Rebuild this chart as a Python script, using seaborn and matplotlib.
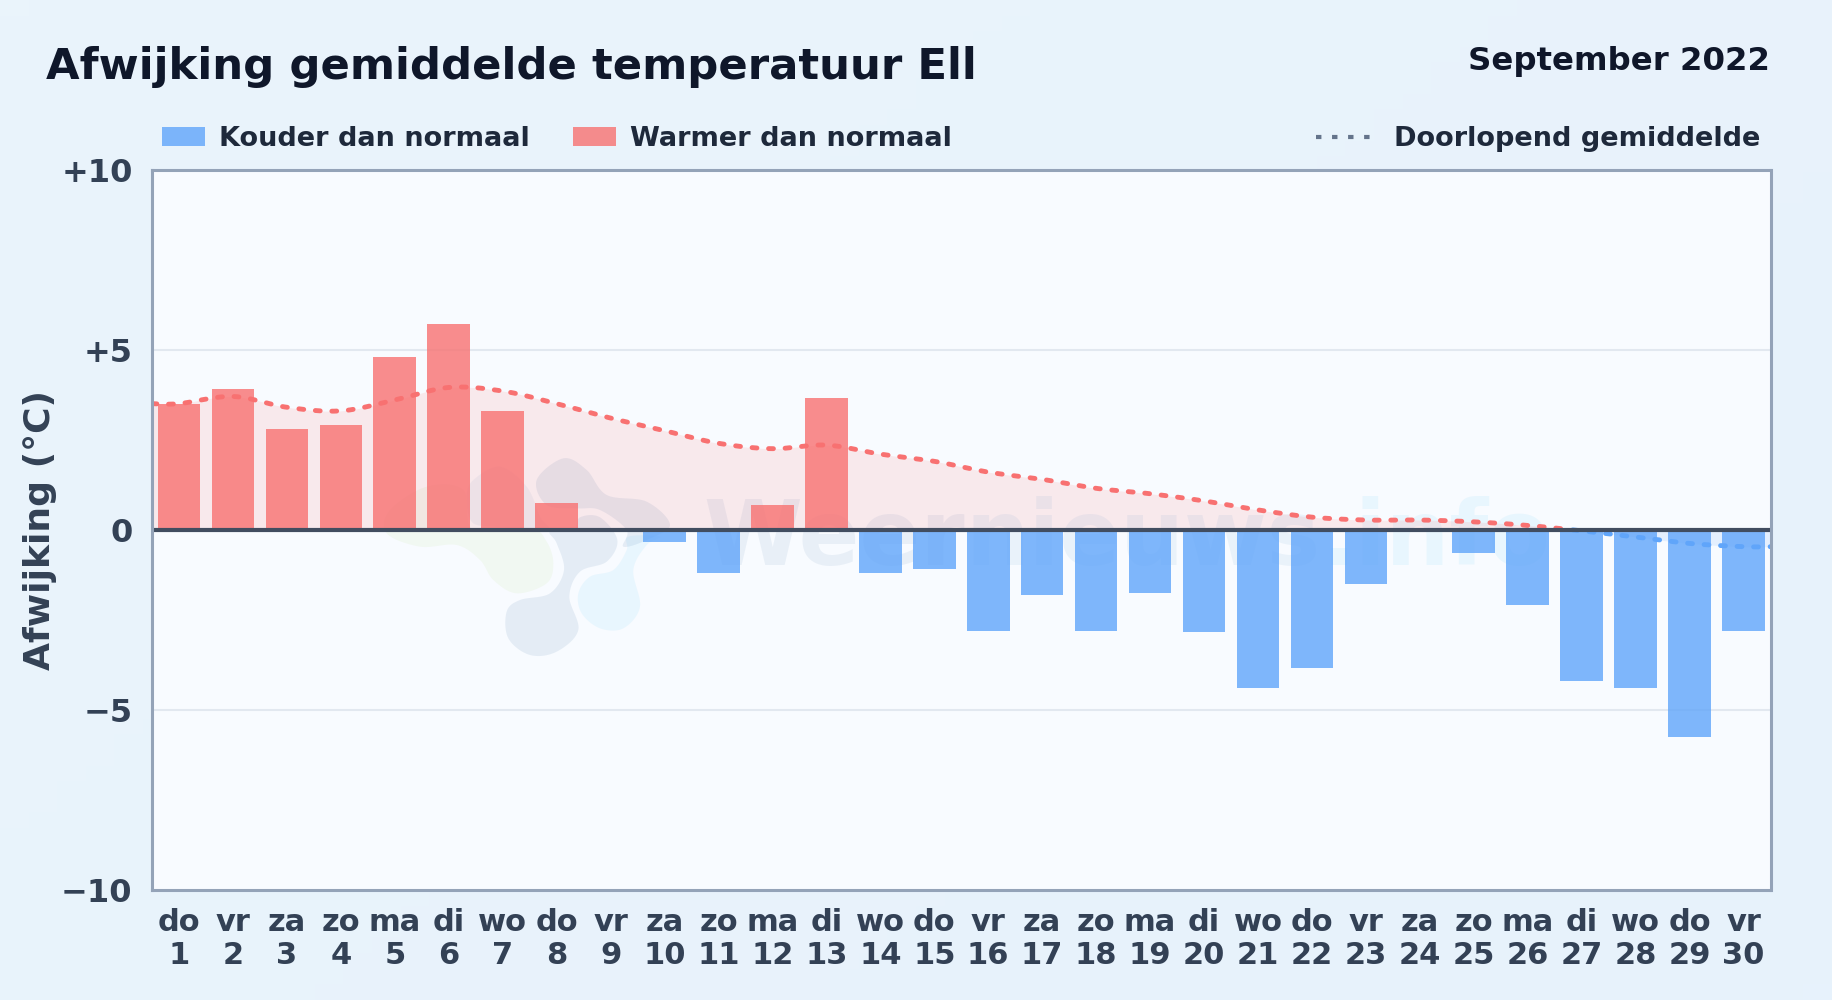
import numpy as np
import matplotlib
matplotlib.use("Agg")
import matplotlib.pyplot as plt
import seaborn as sns
from matplotlib.patches import Patch, Polygon
from matplotlib.lines import Line2D
from matplotlib.colors import LinearSegmentedColormap

weekdays = ["do","vr","za","zo","ma","di","wo","do","vr","za","zo","ma","di","wo","do",
            "vr","za","zo","ma","di","wo","do","vr","za","zo","ma","di","wo","do","vr"]
days = list(range(1, 31))
deviation = [3.5,3.9,2.8,2.9,4.8,5.7,3.3,0.75,-0.05,-0.35,-1.2,0.7,3.65,-1.2,-1.1,
             -2.8,-1.8,-2.8,-1.75,-2.85,-4.4,-3.85,-1.5,0.0,-0.65,-2.1,-4.2,-4.4,-5.75,-2.8]
running_mean = [3.5,3.7,3.4,3.3,3.6,3.95,3.85,3.5,3.1,2.75,2.4,2.25,2.35,2.1,1.9,
                1.6,1.4,1.15,1.0,0.8,0.55,0.35,0.27,0.27,0.22,0.12,-0.03,-0.2,-0.38,-0.47]
yticks = [-10,-5,0,5,10]
ytick_labels = ["\u221210","\u22125","0","+5","+10"]

W, H = 1832, 1000
sns.set_theme(style="white")
plt.rcParams["font.family"] = ["DejaVu Sans"]
plt.rcParams["font.weight"] = "bold"

RED, BLUE = "#f87171", "#60a5fa"
fig = plt.figure(figsize=(W/100, H/100), dpi=100)

# page background
bg = fig.add_axes([0,0,1,1], zorder=-5)
cm = LinearSegmentedColormap.from_list("bg", ["#eaf4fb", "#e7f2fc"])
xx, yy = np.meshgrid(np.linspace(0,1,64), np.linspace(0,1,64))
bg.imshow(xx*0.6+yy*0.4, cmap=cm, aspect="auto", origin="upper")
bg.axis("off")

ax = fig.add_axes([152/W, 1-890/H, (1770.5-152)/W, (890-169.5)/H])
ax.set_facecolor("#f8fbff")

labels = [f"{w}\n{d}" for w, d in zip(weekdays, days)]
kind = ["warm" if v >= 0 else "cold" for v in deviation]
sns.barplot(x=labels, y=deviation, hue=kind, dodge=False, width=0.79,
            palette={"warm": RED, "cold": BLUE}, saturation=1, alpha=0.8,
            legend=False, ax=ax, zorder=3, linewidth=0)

def smooth(xs, ys, n=24):
    """Catmull-Rom drawing path through the read values."""
    xs, ys = np.asarray(xs, float), np.asarray(ys, float)
    px = np.r_[xs[0], xs, xs[-1]]; py = np.r_[ys[0], ys, ys[-1]]
    ox, oy = [], []
    for i in range(1, len(px)-2):
        t = np.linspace(0, 1, n, endpoint=False)
        for arr, out in ((px, ox), (py, oy)):
            p0, p1, p2, p3 = arr[i-1], arr[i], arr[i+1], arr[i+2]
            out.append(0.5*((2*p1)+(-p0+p2)*t+(2*p0-5*p1+4*p2-p3)*t**2+(-p0+3*p1-3*p2+p3)*t**3))
    return np.r_[np.concatenate(ox), xs[-1]], np.r_[np.concatenate(oy), ys[-1]]

xpos = np.arange(30)
sx, sy = smooth(np.r_[-0.5, xpos, 29.5], np.r_[running_mean[0], running_mean, running_mean[-1]])
ax.fill_between(sx, 0, sy, where=sy >= 0, color=RED, alpha=0.13, lw=0, zorder=2, interpolate=True)
ax.fill_between(sx, 0, sy, where=sy <= 0, color=BLUE, alpha=0.13, lw=0, zorder=2, interpolate=True)
dash = (0, (1.0, 2.4))
ax.plot(sx, np.ma.masked_less(sy, 0), color=RED, lw=3.5, ls=dash, dash_capstyle="round", zorder=5)
ax.plot(sx, np.ma.masked_greater(sy, 0), color=BLUE, lw=3.5, ls=dash, dash_capstyle="round", zorder=5)

ax.set_xlim(-0.5, 29.5)
ax.set_ylim(-10, 10)
ax.set_yticks(yticks, ytick_labels)
ax.grid(False)
for v in (-5, 5):
    ax.axhline(v, color="#e2e8f0", lw=1.5, zorder=1)
ax.axhline(0, color="#414d60", lw=3.0, zorder=6)
for s in ax.spines.values():
    s.set_color("#94a3b8"); s.set_linewidth(2.2); s.set_zorder(7)
ax.tick_params(axis="y", length=0, pad=14, labelsize=23, labelcolor="#334155")
ax.tick_params(axis="x", length=0, pad=13, labelsize=22, labelcolor="#334155")
for t in ax.get_xticklabels():
    t.set_linespacing(1.18)
ax.set_xlabel("")
ax.set_ylabel("")
fig.text(40/W, 1-530/H, "Afwijking (\u00b0C)", rotation=90, ha="center", va="center",
         fontsize=26, color="#334155")

# watermark, underneath the bars
def fx(zx): return (360 + zx/3)/W
def fy(zy): return 1 - (430 + zy/3)/H
def blob(points, color, alpha):
    p = np.array(points + points[:3], float)
    out = []
    for i in range(1, len(points)+1):
        t = np.linspace(0, 1, 16, endpoint=False)[:, None]
        a, b, c, d = p[i-1], p[i], p[i+1], p[i+2]
        out.append(0.5*(2*b+(-a+c)*t+(2*a-5*b+4*c-d)*t**2+(-a+3*b-3*c+d)*t**3))
    out = np.vstack(out)
    out = np.c_[fx(out[:,0]), fy(out[:,1])]
    ax.add_patch(Polygon(out, closed=True, facecolor=color, alpha=alpha, lw=0, zorder=1.5,
                         transform=fig.transFigure))

DK, LT, GR = "#1e5a96", "#38bdf8", "#a3d65c"
blob([(610,85),(680,120),(740,195),(860,215),(930,285),(860,330),(790,350),(800,300),(720,240),
      (650,235),(560,225),(530,150)], DK, 0.09)
blob([(660,262),(720,262),(772,330),(740,395),(660,425),(628,500),(655,600),(590,665),(510,675),
      (445,625),(440,545),(480,510),(570,490),(612,420),(590,340),(570,305),(640,300)], DK, 0.09)
blob([(860,345),(820,420),(840,530),(790,595),(720,595),(665,550),(655,490),(690,440),(760,420),
      (800,360),(805,320),(900,320)], LT, 0.08)
blob([(80,310),(180,350),(290,345),(360,390),(400,450),(470,490),(560,460),(580,400),(560,335),
      (510,295),(340,300),(310,180),(200,170),(90,240)], GR, 0.08)
blob([(340,150),(420,110),(500,170),(540,260),(560,300),(400,290),(335,275),(320,200)], DK, 0.05)

renderer = fig.canvas.get_renderer()
wm_x = 703
for part, col, al in (("Weer", DK, 0.07), ("nieuws", "#2f7fc0", 0.07), (".info", LT, 0.08)):
    t = ax.text(wm_x/W, 1-565/H, part, fontsize=64.5, color=col, alpha=al, zorder=1.5,
                transform=fig.transFigure, clip_on=False, va="baseline")
    wm_x = t.get_window_extent(renderer).x1 + 1

# titles
fig.text(46.5/W, 1-79/H, "Afwijking gemiddelde temperatuur Ell", fontsize=31.2, color="#0f172a",
         ha="left", va="baseline")
fig.text(1770.5/W, 1-70/H, "September 2022", fontsize=23.3, color="#0f172a", ha="right", va="baseline")

# legends
common = dict(frameon=False, fontsize=19.5, labelcolor="#1e293b", borderpad=0, borderaxespad=0,
              handlelength=1.6, handleheight=0.66, handletextpad=0.5, columnspacing=1.6)
h1 = [Patch(color=BLUE, alpha=0.8, lw=0, label="Kouder dan normaal"),
      Patch(color=RED, alpha=0.8, lw=0, label="Warmer dan normaal")]
leg1 = fig.legend(handles=h1, ncols=2, loc="center left", bbox_to_anchor=(162/W, 1-139/H),
                  bbox_transform=fig.transFigure, **common)
h2 = [Line2D([], [], color="#64748b", lw=3.0, ls=(0, (1.3, 2.55)), dash_capstyle="butt",
             label="Doorlopend gemiddelde")]
common2 = dict(common, handlelength=2.07, handletextpad=0.8)
leg2 = fig.legend(handles=h2, loc="center right", bbox_to_anchor=(1760/W, 1-139/H),
                  bbox_transform=fig.transFigure, **common2)

fig.savefig("out.png", dpi=100)
